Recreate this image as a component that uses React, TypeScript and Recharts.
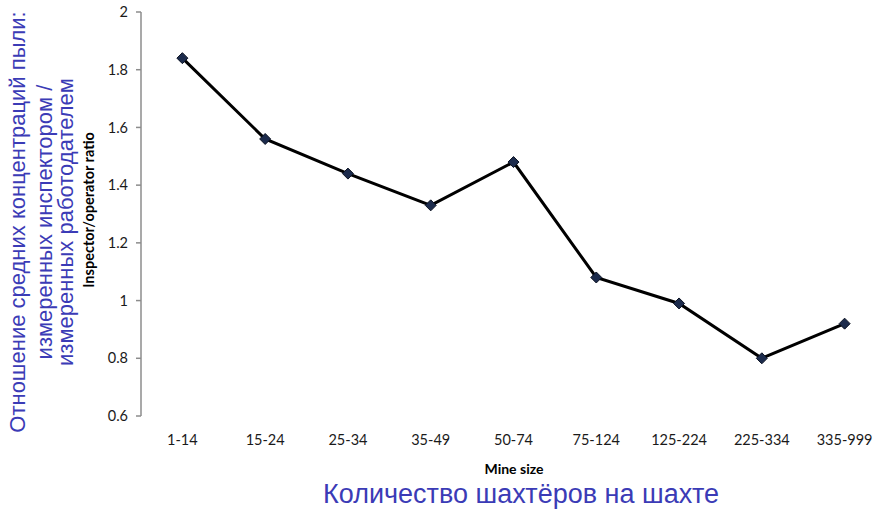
import React from 'react';
import { LineChart, Line, XAxis, YAxis } from 'recharts';

const categories = ['1-14', '15-24', '25-34', '35-49', '50-74', '75-124', '125-224', '225-334', '335-999'];
const ratios = [1.84, 1.56, 1.44, 1.33, 1.48, 1.08, 0.99, 0.8, 0.92];
const yTicks = [0.6, 0.8, 1, 1.2, 1.4, 1.6, 1.8, 2];
const boundaryTicks = [0, 1, 2, 3, 4, 5, 6, 7, 8, 9];

const xTitle = 'Mine size';
const yTitle = 'Inspector/operator ratio';
const ruYLines = ['Отношение средних концентраций пыли:', 'измеренных инспектором /', 'измеренных работодателем'];
const ruYLineX = [25, 52, 73];
const ruXTitle = 'Количество шахтёров на шахте';

const data = categories.map((c, i) => ({ size: c, ratio: ratios[i] }));

const EN_FONT = 'Lato, "Open Sans", sans-serif';
const RU_FONT = '"Liberation Sans", Arial, sans-serif';
const BLUE = '#3b3bb6';

const Diamond = (props: any) => {
  const { cx, cy, index } = props;
  if (cx == null || cy == null) return <g key={`d-${index}`} />;
  const r = 5.5;
  return (
    <polygon
      key={`d-${index}`}
      points={`${cx},${cy - r} ${cx + r},${cy} ${cx},${cy + r} ${cx - r},${cy}`}
      fill="#1c2b4c"
      stroke="#0b1222"
      strokeWidth={1}
    />
  );
};

export default function App() {
  return (
    <div style={{ position: 'absolute', left: 0, top: 0, width: 886, height: 512, background: '#fff' }}>
      <LineChart width={886} height={512} data={data} margin={{ top: 12, right: 0, left: 0, bottom: 38 }}>
        <XAxis
          xAxisId="grid"
          type="number"
          domain={[0, 9]}
          ticks={boundaryTicks}
          allowDataOverflow
          height={0}
          tick={false}
          tickSize={5}
          axisLine={{ stroke: '#8c8c8c', strokeWidth: 1.5 }}
          tickLine={{ stroke: '#8c8c8c', strokeWidth: 1.5 }}
        />
        <XAxis
          xAxisId="cat"
          dataKey="size"
          scale="band"
          height={58}
          axisLine={false}
          tickLine={false}
          tickSize={6}
          tickMargin={13}
          interval={0}
          tick={{ fill: '#1a1a1a', fontSize: 14.5, fontFamily: EN_FONT }}
        />
        <YAxis
          width={141}
          domain={[0.6, 2]}
          ticks={yTicks}
          allowDataOverflow
          tickSize={5}
          tickMargin={8}
          axisLine={{ stroke: '#8c8c8c', strokeWidth: 1.5 }}
          tickLine={{ stroke: '#8c8c8c', strokeWidth: 1.5 }}
          tick={{ fill: '#1a1a1a', fontSize: 14.5, fontFamily: EN_FONT }}
        />
        <Line
          xAxisId="cat"
          dataKey="ratio"
          stroke="#000"
          strokeWidth={3}
          dot={(p: any) => <Diamond key={`dot-${p.index}`} {...p} />}
          activeDot={false}
          isAnimationActive={false}
        />
      </LineChart>
      <svg width={886} height={512} style={{ position: 'absolute', left: 0, top: 0, pointerEvents: 'none' }}>
        <text
          x={514}
          y={474}
          textAnchor="middle"
          fontFamily={EN_FONT}
          fontWeight="bold"
          fontSize={14}
          fill="#000"
        >
          {xTitle}
        </text>
        <text
          transform="translate(94,210) rotate(-90)"
          textAnchor="middle"
          fontFamily={EN_FONT}
          fontWeight="bold"
          fontSize={14.5}
          fill="#000"
        >
          {yTitle}
        </text>
        {ruYLines.map((line, i) => (
          <text
            key={i}
            transform={`translate(${ruYLineX[i]},222) rotate(-90)`}
            textAnchor="middle"
            fontFamily={RU_FONT}
            fontSize={22}
            fill={BLUE}
          >
            {line}
          </text>
        ))}
        <text x={521} y={503} textAnchor="middle" fontFamily={RU_FONT} fontSize={27} fill={BLUE}>
          {ruXTitle}
        </text>
      </svg>
    </div>
  );
}
